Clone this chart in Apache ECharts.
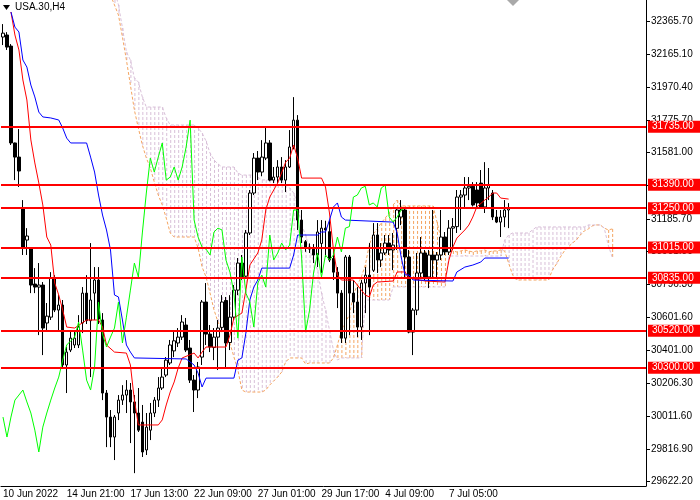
<!DOCTYPE html>
<html>
<head>
<meta charset="utf-8">
<title>USA.30,H4</title>
<script src="https://cdn.jsdelivr.net/npm/echarts@6/dist/echarts.min.js"></script>
<style>
  html, body { margin: 0; padding: 0; background: #fff; }
  #chart { width: 700px; height: 500px; }
</style>
</head>
<body>
<div id="chart"></div>
<script>
// bottom time labels, one every 16 bars
var timeLabels = ['10 Jun 2022', '14 Jun 21:00', '17 Jun 13:00', '22 Jun 09:00',
    '27 Jun 01:00', '29 Jun 17:00', '4 Jul 09:00', '7 Jul 05:00'];

// right price scale labels
var priceTicks = [29622.2, 29816.9, 30011.6, 30206.3, 30401.0, 30601.6, 30796.3, 30991.0,
    31185.7, 31386.3, 31581.0, 31775.7, 31970.4, 32165.1, 32365.7];

// horizontal levels
var levels = [31735, 31390, 31250, 31015, 30835, 30520, 30300];

// H4 bars: [open, close, low, high]
var candles = [
    [32269, 32292, 32221, 32346], [32281, 32209, 32192, 32298], [32215, 31638, 31626, 32227], [31638, 31554, 31417, 31640],
    [31554, 31471, 31376, 31721], [31250, 31018, 30971, 31298], [31060, 31084, 30971, 31131], [31012, 30792, 30744, 31018],
    [30798, 30780, 30744, 30893], [30780, 30792, 30494, 30923], [30792, 30536, 30375, 30810], [30566, 30607, 30524, 30685],
    [30601, 30834, 30584, 30869], [30834, 30643, 30631, 30851], [30643, 30673, 30524, 30732], [30673, 30316, 30304, 30703],
    [30316, 30393, 30149, 30423], [30405, 30476, 30393, 30524], [30435, 30476, 30417, 30524], [30435, 30542, 30417, 30613],
    [30566, 30744, 30506, 30780], [30744, 30580, 30560, 30851], [30580, 30703, 30244, 31042], [30744, 30822, 30584, 30899],
    [30822, 30590, 30560, 30899], [30584, 30149, 30107, 30625], [30149, 30006, 29827, 30167], [30006, 29887, 29827, 30048],
    [29887, 30006, 29750, 30018], [30030, 30107, 29988, 30137], [30107, 30137, 30078, 30196], [30137, 30167, 30030, 30226],
    [30167, 30096, 29851, 30209], [30096, 30030, 29672, 30137], [30030, 29928, 29917, 30179], [29976, 29798, 29768, 30078],
    [29810, 29946, 29780, 30030], [29928, 30030, 29869, 30090], [30030, 30107, 30006, 30125], [30107, 30179, 30066, 30244],
    [30179, 30244, 30167, 30298], [30256, 30345, 30244, 30363], [30328, 30435, 30316, 30465], [30400, 30460, 30363, 30524],
    [30447, 30482, 30423, 30536], [30482, 30572, 30465, 30613], [30554, 30405, 30393, 30596], [30417, 30226, 30209, 30465],
    [30226, 30167, 30036, 30256], [30167, 30304, 30119, 30334], [30363, 30691, 30316, 30703], [30691, 30500, 30435, 30804],
    [30500, 30423, 30393, 30554], [30420, 30482, 30345, 30536], [30482, 30536, 30286, 30584], [30540, 30691, 30512, 30732],
    [30700, 30447, 30304, 30721], [30450, 30601, 30405, 30732], [30601, 30762, 30584, 30792], [30762, 30923, 30732, 30953],
    [30923, 30840, 30822, 30971], [30845, 31102, 30830, 31120], [31102, 31340, 31090, 31358], [31340, 31548, 31328, 31578],
    [31548, 31465, 31417, 31590], [31465, 31554, 31440, 31655], [31548, 31638, 31536, 31727], [31638, 31417, 31410, 31655],
    [31417, 31435, 31399, 31495], [31435, 31495, 31399, 31536], [31495, 31417, 31399, 31554], [31417, 31495, 31346, 31536],
    [31495, 31614, 31489, 31715], [31614, 31774, 31600, 31911], [31774, 31179, 31120, 31804], [31179, 31078, 31042, 31239],
    [31050, 31018, 30990, 31060], [31018, 31006, 30983, 31040], [31006, 30971, 30923, 31036], [30971, 31108, 30899, 31179],
    [31040, 31131, 30864, 31179], [31131, 31120, 30959, 31175], [31110, 30941, 30929, 31179], [30950, 30869, 30822, 31018],
    [30869, 30744, 30655, 30899], [30744, 30476, 30447, 30762], [30476, 30959, 30447, 30971], [30959, 30744, 30494, 30971],
    [30744, 30691, 30625, 30822], [30691, 30542, 30482, 30780], [30542, 30804, 30465, 30822], [30804, 30851, 30625, 30899],
    [30851, 30780, 30494, 31042], [30880, 31090, 30870, 31161], [31090, 30941, 30864, 31161], [30941, 30983, 30899, 31042],
    [30983, 31042, 30971, 31090], [31042, 31001, 30971, 31090], [31001, 31030, 30881, 31102], [31130, 31239, 31001, 31250],
    [31197, 31239, 31149, 31298], [31239, 30959, 30840, 31250], [30959, 30512, 30505, 31001], [30512, 30643, 30375, 30655],
    [30643, 30864, 30613, 30983], [30864, 30983, 30840, 31078], [30983, 30840, 30822, 31001], [30840, 30971, 30774, 31001],
    [30971, 30941, 30840, 31239], [30941, 30971, 30840, 30989], [30971, 31078, 30941, 31239], [31078, 30989, 30971, 31108],
    [30989, 31131, 30971, 31179], [31131, 31140, 31001, 31191], [31140, 31316, 31102, 31358], [31316, 31328, 31120, 31358],
    [31328, 31370, 31257, 31435], [31370, 31380, 31298, 31435], [31380, 31269, 31260, 31405], [31358, 31281, 31257, 31405],
    [31399, 31257, 31250, 31477], [31257, 31370, 31221, 31524], [31370, 31387, 31298, 31489], [31340, 31197, 31179, 31358],
    [31197, 31167, 31161, 31239], [31167, 31197, 31078, 31239], [31197, 31239, 31137, 31298], [31239, 31250, 31131, 31280]
];

// Tenkan-sen, [bar, value] at the corners of the line
var tenkan = [
    [2, 32418], [3, 32281], [4, 32192], [5, 32013], [6, 31894], [7, 31656], [8, 31519], [9, 31400],
    [10, 31269], [11, 31078], [12, 31030], [13, 30804], [14, 30733], [15, 30643], [16, 30542], [18, 30536],
    [21, 30584], [24, 30584], [25, 30542], [26, 30435], [28, 30393], [31, 30387], [32, 30316], [33, 30107],
    [34, 29959], [39, 29959], [40, 29989], [41, 30078], [42, 30155], [43, 30215], [44, 30298], [45, 30358],
    [48, 30387], [49, 30358], [50, 30393], [51, 30423], [56, 30423], [57, 30494], [58, 30596], [60, 30625],
    [61, 30762], [62, 30911], [64, 30983], [65, 31060], [66, 31239], [67, 31316], [69, 31400], [71, 31524],
    [72, 31548], [73, 31626], [74, 31548], [75, 31429], [80, 31429], [81, 31376], [82, 31221], [83, 31001],
    [84, 30852], [85, 30822], [88, 30822], [90, 30762], [91, 30733], [92, 30721], [93, 30792], [94, 30810],
    [98, 30816], [99, 30870], [101, 30870], [102, 30834], [106, 30816], [111, 30810], [112, 30941], [113, 31018],
    [114, 31072], [116, 31120], [117, 31149], [118, 31197], [119, 31257], [121, 31298], [122, 31316], [123, 31340],
    [124, 31340], [125, 31310], [127, 31304]
];

// Kijun-sen, [bar, value]
var kijun = [
    [2, 32418], [3, 32328], [4, 32299], [5, 32132], [6, 32090], [7, 31983], [8, 31912], [9, 31822],
    [10, 31793], [12, 31787], [14, 31775], [15, 31727], [16, 31667], [17, 31638], [21, 31638], [22, 31554],
    [23, 31465], [24, 31328], [25, 31209], [26, 31120], [27, 31001], [28, 30733], [29, 30721], [30, 30584],
    [31, 30435], [32, 30393], [33, 30358], [46, 30352], [48, 30316], [49, 30268], [50, 30185], [51, 30238],
    [58, 30238], [59, 30345], [60, 30358], [61, 30506], [62, 30703], [63, 30780], [64, 30822], [65, 30893],
    [72, 30893], [73, 30971], [74, 31090], [79, 31090], [80, 31108], [81, 31108], [82, 31179], [83, 31257],
    [84, 31281], [85, 31197], [86, 31179], [98, 31167], [99, 31102], [100, 30959], [101, 30852], [102, 30852],
    [103, 30822], [113, 30816], [114, 30870], [116, 30899], [118, 30911], [120, 30929], [121, 30953], [127, 30953]
];

// Senkou spans, one value per bar starting at bar 26 (runs 26 bars past the last candle)
var spanStart = 26;
var spanA = [
    32609, 32519, 32460, 32400, 32269, 32132, 31983, 31834, 31727, 31626,
    31549, 31489, 31406, 31328, 31269, 31191, 31102, 31078, 31078, 31078,
    31078, 31078, 31078, 31013, 30900, 30840, 30745, 30644, 30572, 30524,
    30507, 30447, 30364, 30286, 30167, 30155, 30155, 30155, 30155, 30155,
    30167, 30197, 30221, 30245, 30274, 30334, 30358, 30358, 30358, 30358,
    30322, 30328, 30328, 30328, 30328, 30328, 30328, 30358, 30435, 30524,
    30572, 30614, 30733, 30792, 30840, 30912, 31031, 31096, 31126, 31162,
    31191, 31221, 31269, 31298, 31263, 31263, 31263, 31263, 31263, 31263,
    31263, 31263, 31263, 31168, 31072, 31013, 31001, 30995, 30989, 30995,
    31001, 30995, 30989, 30995, 30995, 31001, 30989, 30995, 30995, 31001,
    30995, 30923, 30852, 30822, 30822, 30822, 30822, 30822, 30822, 30822,
    30822, 30822, 30882, 30917, 30959, 30995, 31019, 31042, 31060, 31090,
    31114, 31126, 31144, 31150, 31150, 31132, 31120, 31126
];
var spanB = [
    32728, 32638, 32549, 32460, 32323, 32180, 32132, 32025, 32001, 31912,
    31852, 31852, 31852, 31852, 31852, 31787, 31745, 31745, 31745, 31745,
    31745, 31745, 31745, 31727, 31697, 31650, 31578, 31537, 31513, 31495,
    31495, 31495, 31495, 31459, 31447, 31447, 31447, 31447, 31435, 31418,
    31418, 31418, 31418, 31418, 31418, 31388, 31370, 31340, 31269, 31150,
    31090, 31001, 30941, 30882, 30745, 30644, 30524, 30405, 30346, 30358,
    30358, 30358, 30358, 30358, 30358, 30703, 30703, 30703, 30703, 30703,
    30703, 30703, 30781, 30781, 30781, 30781, 30781, 30781, 30781, 30781,
    30781, 30781, 30781, 30781, 30781, 30781, 30965, 30965, 30965, 30965,
    30965, 30965, 30965, 30965, 30965, 30965, 30965, 30965, 30965, 30965,
    31060, 31090, 31102, 31102, 31102, 31102, 31102, 31120, 31138, 31138,
    31138, 31138, 31138, 31138, 31138, 31138, 31138, 31138, 31138, 31138,
    31138, 31150, 31150, 31150, 31150, 31132, 31031, 30959
];

var slotCount = 162;
var categories = [];
for (var i = 0; i < slotCount; i++) {
    categories.push(i);
}

// Chikou span: closes shifted back 26 bars
var chikou = [];
for (var i = 26; i < candles.length; i++) {
    chikou.push([i - 26, candles[i][1]]);
}

var kumo = [];
var lineA = [];
var lineB = [];
for (var i = 0; i < spanA.length; i++) {
    kumo.push([spanStart + i, spanA[i], spanB[i]]);
    lineA.push([spanStart + i, spanA[i]]);
    lineB.push([spanStart + i, spanB[i]]);
}

var sandy = '#f4a460';
var thistle = '#d8bfd8';
var font = '"Liberation Sans", Arial, sans-serif';

var dom = document.getElementById('chart');
var myChart = echarts.init(dom);

var option = {
    animation: false,
    backgroundColor: '#ffffff',
    grid: {
        left: -2,
        right: 54,
        top: 0,
        bottom: 14
    },
    xAxis: {
        type: 'category',
        data: categories,
        boundaryGap: true,
        axisLine: { lineStyle: { color: '#000', width: 1 } },
        axisTick: {
            alignWithLabel: true,
            length: 4,
            lineStyle: { color: '#000' },
            interval: function (index) {
                return index % 16 === 0 && index / 16 < timeLabels.length;
            }
        },
        axisLabel: {
            color: '#000',
            fontSize: 10,
            fontFamily: font,
            align: 'left',
            margin: 3,
            interval: function (index) {
                return index % 16 === 0 && index / 16 < timeLabels.length;
            },
            formatter: function (value, index) {
                return timeLabels[index / 16] || '';
            }
        },
        splitLine: { show: false }
    },
    yAxis: {
        type: 'value',
        position: 'right',
        min: 29595.5,
        max: 32489.4,
        axisLine: { show: true, lineStyle: { color: '#000', width: 1 } },
        axisTick: {
            show: true,
            length: 4,
            customValues: priceTicks,
            lineStyle: { color: '#000' }
        },
        axisLabel: {
            customValues: priceTicks,
            color: '#000',
            fontSize: 10,
            fontFamily: font,
            margin: 5,
            formatter: function (v) {
                return v.toFixed(2);
            }
        },
        splitLine: { show: false }
    },
    graphic: [
        {
            type: 'polygon',
            shape: { points: [[3, 5], [10, 5], [6.5, 10]] },
            style: { fill: '#000' },
            z: 100
        },
        {
            type: 'text',
            left: 15,
            top: 2,
            style: { text: 'USA.30,H4', font: '10px ' + font, fill: '#000' },
            z: 100
        },
        {
            type: 'polygon',
            shape: { points: [[507, 0], [519, 0], [513, 6]] },
            style: { fill: '#a9a9a9' },
            z: 100
        }
    ],
    series: [
        {
            name: 'Kumo',
            type: 'custom',
            z: 1,
            silent: true,
            data: kumo,
            renderItem: function (params, api) {
                var k = api.value(0);
                var a = api.value(1);
                var b = api.value(2);
                var pa = api.coord([k, a]);
                var pb = api.coord([k, b]);
                var cs = params.coordSys;
                var top = Math.max(cs.y, Math.min(pa[1], pb[1]));
                var bottom = Math.min(cs.y + cs.height, Math.max(pa[1], pb[1]));
                if (bottom - top < 1) {
                    return;
                }
                return {
                    type: 'line',
                    shape: { x1: pa[0] + 0.5, y1: top, x2: pa[0] + 0.5, y2: bottom },
                    style: { stroke: a >= b ? sandy : thistle, lineWidth: 1, lineDash: [3, 2] }
                };
            }
        },
        {
            name: 'Senkou Span A',
            type: 'line',
            z: 2,
            silent: true,
            symbol: 'none',
            data: lineA,
            lineStyle: { color: sandy, width: 1, type: [3, 2] }
        },
        {
            name: 'Senkou Span B',
            type: 'line',
            z: 2,
            silent: true,
            symbol: 'none',
            data: lineB,
            lineStyle: { color: thistle, width: 1, type: [3, 2] }
        },
        {
            name: 'USA.30',
            type: 'candlestick',
            z: 3,
            barWidth: 3,
            data: candles,
            itemStyle: {
                color: '#ffffff',
                color0: '#000000',
                borderColor: '#000000',
                borderColor0: '#000000',
                borderWidth: 1
            }
        },
        {
            name: 'Tenkan-sen',
            type: 'line',
            z: 4,
            silent: true,
            symbol: 'none',
            data: tenkan,
            lineStyle: { color: '#ff0000', width: 1 }
        },
        {
            name: 'Kijun-sen',
            type: 'line',
            z: 4,
            silent: true,
            symbol: 'none',
            data: kijun,
            lineStyle: { color: '#0000ff', width: 1 }
        },
        {
            name: 'Chikou Span',
            type: 'line',
            z: 4,
            silent: true,
            symbol: 'none',
            data: chikou,
            lineStyle: { color: '#00ff00', width: 1 }
        },
        {
            name: 'Levels',
            type: 'line',
            z: 6,
            data: [],
            markLine: {
                silent: true,
                symbol: 'none',
                animation: false,
                lineStyle: { color: '#ff0000', width: 2, type: 'solid' },
                label: {
                    position: 'end',
                    distance: 2,
                    formatter: function (p) {
                        return p.value.toFixed(2);
                    },
                    color: '#ffffff',
                    backgroundColor: '#ff0000',
                    fontSize: 10,
                    fontFamily: font,
                    lineHeight: 11,
                    padding: [1, 10, 0, 4]
                },
                data: levels.map(function (v) {
                    return { yAxis: v };
                })
            }
        }
    ]
};

myChart.setOption(option);
</script>
</body>
</html>
